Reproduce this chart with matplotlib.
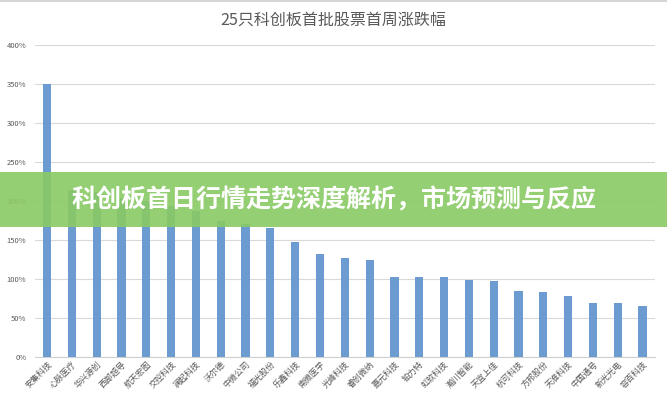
import matplotlib
matplotlib.use("Agg")
import matplotlib.pyplot as plt
from matplotlib.patches import Rectangle
from matplotlib.ticker import FuncFormatter

plt.rcParams['font.family'] = ['Noto Sans CJK SC', 'DejaVu Sans']

# 25只科创板首批股票首周涨跌幅 (%)
stocks = ['安集科技', '心脉医疗', '华兴源创', '西部超导', '航天宏图', '交控科技', '澜起科技',
          '沃尔德', '中微公司', '福光股份', '乐鑫科技', '南微医学', '光峰科技', '睿创微纳',
          '嘉元科技', '铂力特', '虹软科技', '瀚川智能', '天宜上佳', '杭可科技', '方邦股份',
          '天准科技', '中国通号', '新光光电', '容百科技']
weekly_change = [350, 214, 211, 204, 200, 194, 187, 175, 170, 166, 148, 132, 127, 124,
                 103, 103, 103, 99, 97, 85, 83, 78, 69, 69, 66]
yticks = [0, 50, 100, 150, 200, 250, 300, 350, 400]

title = '25只科创板首批股票首周涨跌幅'
banner = '科创板首日行情走势深度解析，市场预测与反应'

fig = plt.figure(figsize=(6.67, 4.0), dpi=100)
ax = fig.add_axes([0.052, 0.1075, 0.93, 0.78])

x = range(len(stocks))
ax.bar(x, weekly_change, width=0.33, color='#6b9bd0', zorder=2)

ax.set_ylim(0, 400)
ax.set_xlim(-0.5, len(stocks) - 0.5)
ax.set_yticks(yticks)
ax.yaxis.set_major_formatter(FuncFormatter(lambda v, p: f'{int(v)}%'))
ax.grid(axis='y', color='#d9d9d9', linewidth=0.8, zorder=0)
for s in ['top', 'right', 'left']:
    ax.spines[s].set_visible(False)
ax.spines['bottom'].set_color('#d0d0d0')
ax.tick_params(axis='y', length=0, labelsize=5.5, labelcolor='#595959', pad=6)
ax.tick_params(axis='x', length=0, labelsize=6, labelcolor='#595959', pad=2)
ax.set_xticks(list(x))
ax.set_xticklabels(stocks, rotation=45, ha='right', rotation_mode='anchor')

fig.text(0.5, 0.95, title, ha='center', va='center', fontsize=11.5, color='#595959')

# green banner across the chart
fig.patches.append(Rectangle((0, 0.4325), 1, 0.1375, transform=fig.transFigure,
                             facecolor='#8aca64', alpha=0.9, zorder=5))
fig.text(0.5, 0.5, banner, ha='center', va='center', fontsize=18, color='white',
         fontweight='bold', zorder=6)

# thin border line on top
fig.patches.append(Rectangle((0, 0.995), 1, 0.005, transform=fig.transFigure,
                             facecolor='#d6d6d6', zorder=5))

fig.savefig('out.png', dpi=100)
